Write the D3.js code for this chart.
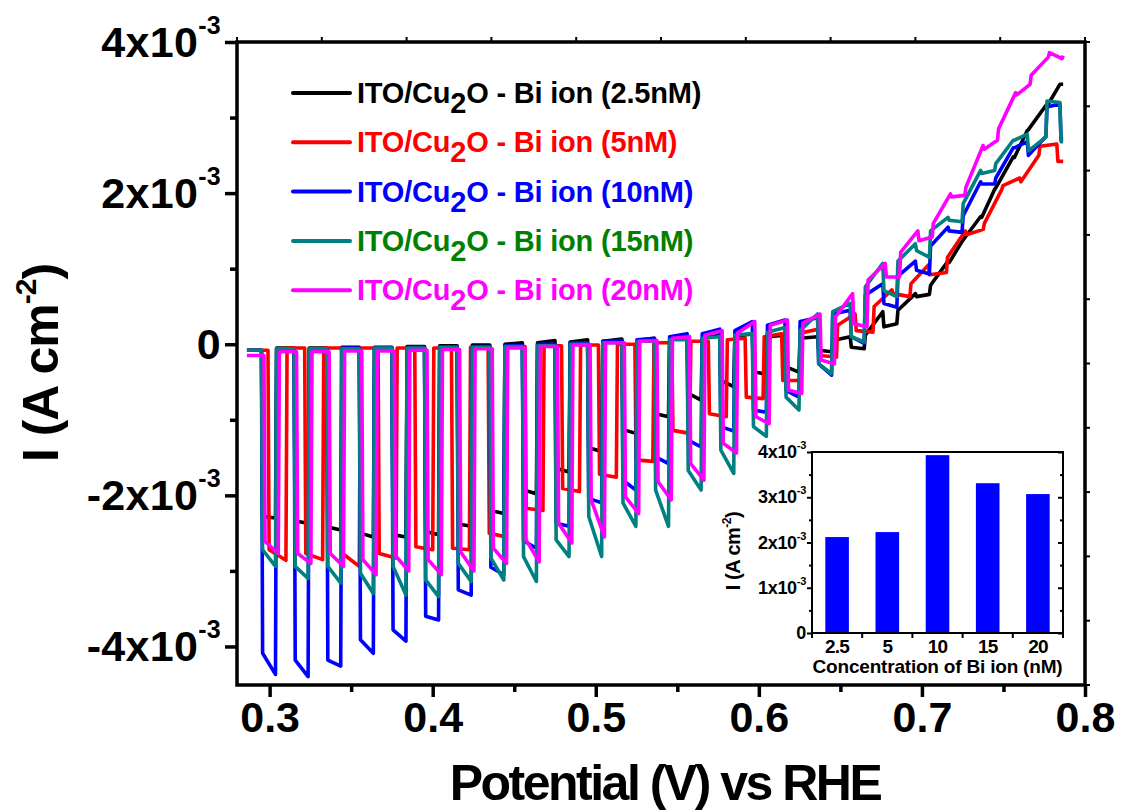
<!DOCTYPE html>
<html>
<head>
<meta charset="utf-8">
<script src="https://cdn.jsdelivr.net/npm/d3@7"></script>
<style>
  body { margin: 0; background: #fff; }
  svg text { font-family: "Liberation Sans", Arial, sans-serif; font-weight: bold; }
</style>
</head>
<body>
<div id="chart"></div>
<script>
// Data ------------------------------------------------------------------------
const concLabels = ["2.5nM", "5nM", "10nM", "15nM", "20nM"];
const lineColors = ["#000000", "#ff0000", "#0000ff", "#008080", "#ff00ff"];
const textColors = ["#000000", "#ff0000", "#0000ff", "#008000", "#ff00ff"];

// potential (V) where the light is switched on
const chopOn = [0.295, 0.315, 0.335, 0.355, 0.375, 0.395, 0.415, 0.435, 0.455,
  0.475, 0.495, 0.516, 0.536, 0.556, 0.576, 0.596, 0.616, 0.636, 0.656, 0.676,
  0.696, 0.716, 0.736, 0.756, 0.776];
// the 5 nM run was chopped on a slower clock
const chopOnRed = [0.299, 0.3215, 0.344, 0.3665, 0.389, 0.4115, 0.434, 0.4566,
  0.479, 0.5016, 0.524, 0.5466, 0.569, 0.5916, 0.614, 0.6366, 0.659, 0.6816,
  0.704, 0.7266, 0.749, 0.7717];
const onTimes = [chopOn, chopOnRed, chopOn, chopOn, chopOn];
const onLag = [0, 0, 0, 0, 0.0015];      // V, delay of each trace
const onWidth = [0.0086, 0.011, 0.0086, 0.0086, 0.0088];
const scanStart = 0.2861;
const scanEnd = 0.7866;

// current (mA cm-2) per chop cycle: [dark before, light start, light end, dark after]
const black2p5 = [
  [-0.08, -2.28, -2.30, -0.05], [-0.05, -2.34, -2.37, -0.05], [-0.05, -2.42, -2.46, -0.04],
  [-0.04, -2.50, -2.55, -0.04], [-0.04, -2.52, -2.55, -0.03], [-0.03, -2.48, -2.52, -0.02],
  [-0.02, -2.38, -2.41, -0.01], [-0.01, -2.20, -2.24, 0.00], [0.02, -1.93, -1.98, 0.02],
  [0.05, -1.64, -1.69, 0.03], [0.06, -1.37, -1.42, 0.04], [0.07, -1.13, -1.18, 0.05],
  [0.08, -0.92, -0.96, 0.06], [0.10, -0.65, -0.74, 0.08], [0.12, -0.48, -0.56, 0.10],
  [0.14, -0.36, -0.40, 0.10], [0.12, -0.30, -0.37, 0.08], [0.10, -0.08, -0.10, 0.05],
  [0.10, -0.04, -0.06, 0.12], [0.43, 0.23, 0.27, 0.45], [0.67, 0.63, 0.66, 0.78],
  [1.10, 1.08, 1.36, 1.38], [1.69, 1.68, 2.05, 2.07], [2.48, 2.47, 2.83, 2.84],
  [3.16, 3.15, 3.44, 3.44]
];
const red5 = [
  [-0.08, -2.72, -2.86, -0.05], [-0.05, -2.77, -2.85, -0.05], [-0.05, -2.77, -2.94, -0.05],
  [-0.05, -2.77, -2.83, -0.05], [-0.05, -2.68, -2.72, -0.05], [-0.05, -2.70, -2.72, -0.04],
  [-0.04, -2.50, -2.55, -0.03], [-0.03, -2.17, -2.20, -0.02], [-0.02, -1.91, -1.95, -0.01],
  [-0.01, -1.72, -1.76, 0.00], [0.00, -1.53, -1.55, 0.02], [0.02, -1.14, -1.18, 0.04],
  [0.04, -0.92, -0.96, 0.06], [0.08, -0.70, -0.72, 0.10], [0.14, -0.48, -0.48, 0.15],
  [0.20, -0.15, -0.17, 0.25], [0.40, 0.18, 0.16, 0.50], [0.72, 0.67, 0.63, 0.80],
  [1.05, 0.92, 0.95, 1.15], [1.50, 1.45, 1.52, 1.60], [2.05, 2.10, 2.20, 2.15],
  [2.50, 2.62, 2.65, 2.42]
];
const blue10 = [
  [-0.08, -4.09, -4.37, -0.06], [-0.06, -4.18, -4.40, -0.06], [-0.06, -4.18, -4.26, -0.05],
  [-0.05, -3.91, -4.09, -0.05], [-0.05, -3.78, -3.93, -0.04], [-0.04, -3.60, -3.65, -0.04],
  [-0.04, -3.25, -3.32, -0.03], [-0.03, -2.95, -3.05, -0.02], [-0.02, -2.60, -2.70, 0.00],
  [0.00, -2.37, -2.41, 0.02], [0.02, -2.04, -2.10, 0.04], [0.05, -1.80, -1.93, 0.06],
  [0.08, -1.49, -1.58, 0.10], [0.14, -1.27, -1.36, 0.14], [0.20, -1.09, -1.15, 0.18],
  [0.30, -0.87, -0.90, 0.25], [0.32, -0.61, -0.70, 0.30], [0.35, -0.26, -0.41, 0.40],
  [0.45, 0.10, 0.01, 0.65], [0.80, 0.54, 0.49, 0.90], [1.10, 0.98, 0.93, 1.30],
  [1.55, 1.50, 1.48, 1.70], [2.15, 2.12, 2.12, 2.20], [2.60, 2.60, 2.68, 2.50],
  [2.75, 3.14, 3.18, 2.72]
];
const teal15 = [
  [-0.08, -2.72, -2.94, -0.06], [-0.06, -2.94, -3.10, -0.06], [-0.06, -2.94, -3.16, -0.06],
  [-0.06, -3.03, -3.30, -0.05], [-0.05, -2.94, -3.32, -0.05], [-0.05, -3.12, -3.34, -0.04],
  [-0.04, -2.90, -3.14, -0.04], [-0.04, -2.83, -3.12, -0.03], [-0.03, -2.81, -3.14, -0.02],
  [-0.02, -2.59, -2.81, 0.00], [0.00, -2.28, -2.81, 0.02], [0.02, -2.10, -2.41, 0.04],
  [0.04, -1.93, -2.41, 0.06], [0.06, -1.67, -1.93, 0.08], [0.10, -1.40, -1.71, 0.12],
  [0.14, -1.09, -1.22, 0.16], [0.22, -0.70, -0.87, 0.18], [0.40, -0.26, -0.39, 0.43],
  [0.54, 0.10, 0.03, 0.76], [1.07, 0.71, 0.63, 1.10], [1.33, 1.24, 1.15, 1.50],
  [1.68, 1.64, 1.62, 1.86], [2.30, 2.26, 2.30, 2.39], [2.70, 2.70, 2.78, 2.56],
  [2.74, 3.22, 3.20, 2.68]
];
const magenta20 = [
  [-0.15, -2.61, -2.77, -0.10], [-0.10, -2.77, -2.90, -0.10], [-0.10, -2.77, -2.94, -0.09],
  [-0.09, -2.85, -3.05, -0.09], [-0.09, -2.80, -3.00, -0.08], [-0.08, -2.85, -3.05, -0.07],
  [-0.07, -2.75, -3.00, -0.06], [-0.06, -2.70, -2.90, -0.05], [-0.05, -2.59, -2.88, -0.03],
  [-0.03, -2.37, -2.63, -0.01], [-0.01, -2.06, -2.55, 0.02], [0.02, -2.02, -2.24, 0.04],
  [0.05, -1.82, -2.06, 0.08], [0.10, -1.58, -1.80, 0.12], [0.18, -1.31, -1.44, 0.15],
  [0.30, -0.96, -1.05, 0.25], [0.32, -0.61, -0.65, 0.28], [0.40, -0.21, -0.26, 0.36],
  [0.67, 0.27, 0.23, 0.85], [1.07, 0.89, 0.89, 1.22], [1.50, 1.37, 1.42, 1.60],
  [1.99, 1.95, 1.97, 2.08], [2.63, 2.58, 2.70, 2.85], [3.33, 3.30, 3.44, 3.56],
  [3.80, 3.86, 3.78, 3.82]
];
const seriesCycles = [black2p5, red5, blue10, teal15, magenta20];

// inset: photocurrent at 0.78 V (x10^-3 A cm-2)
const insetConc = ["2.5", "5", "10", "15", "20"];
const insetCurrent = [2.12, 2.23, 3.93, 3.31, 3.07];

// ticks
const xMajor = [0.3, 0.4, 0.5, 0.6, 0.7, 0.8];
const xMinor = [0.35, 0.45, 0.55, 0.65, 0.75];
const yMajor = [-4, -2, 0, 2, 4];
const yMinor = [-3, -1, 1, 3];
const insetYMajor = [0, 1, 2, 3, 4];
const insetYMinor = [0.5, 1.5, 2.5, 3.5];

// Layout ----------------------------------------------------------------------
const width = 1122;
const height = 811;
const plot = { left: 237, right: 1085, top: 42, bottom: 685 };
const inset = { left: 812, right: 1063, top: 452, bottom: 633 };

const svg = d3.select("#chart")
  .append("svg")
  .attr("width", width)
  .attr("height", height);

svg.append("rect").attr("width", width).attr("height", height).attr("fill", "#fff");

const x = d3.scaleLinear().domain([0.28, 0.8]).range([plot.left, plot.right]);
const y = d3.scaleLinear().domain([-4.51, 4.0]).range([plot.bottom, plot.top]);

svg.append("defs").append("clipPath").attr("id", "plot-clip")
  .append("rect")
  .attr("x", plot.left).attr("y", plot.top)
  .attr("width", plot.right - plot.left).attr("height", plot.bottom - plot.top);

// Chopped light traces ----------------------------------------------------------
function tracePoints(cycles, s) {
  const pts = [[scanStart, cycles[0][0]]];
  const edge = 0.0007;
  cycles.forEach((c, i) => {
    const on = onTimes[s][i] + onLag[s];
    const off = Math.min(on + onWidth[s], scanEnd - edge);
    pts.push([on, c[0]], [on + edge, c[1]], [off, c[2]], [off + edge, c[3]]);
  });
  pts.push([scanEnd, cycles[cycles.length - 1][3]]);
  return pts;
}

const line = d3.line().x(d => x(d[0])).y(d => y(d[1]));

svg.append("g")
  .attr("clip-path", "url(#plot-clip)")
  .selectAll("path")
  .data(seriesCycles)
  .join("path")
  .attr("d", (d, i) => line(tracePoints(d, i)))
  .attr("fill", "none")
  .attr("stroke", (d, i) => lineColors[i])
  .attr("stroke-width", 3.6)
  .attr("stroke-linejoin", "round");

// Axes ------------------------------------------------------------------------
svg.append("rect")
  .attr("x", plot.left).attr("y", plot.top)
  .attr("width", plot.right - plot.left).attr("height", plot.bottom - plot.top)
  .attr("fill", "none").attr("stroke", "#000").attr("stroke-width", 3.5);

const xAxis = svg.append("g")
  .attr("transform", `translate(0,${plot.bottom})`)
  .call(d3.axisBottom(x).tickValues(xMajor).tickSize(12).tickSizeOuter(0)
    .tickPadding(4).tickFormat(d3.format(".1f")));
xAxis.append("g").call(d3.axisBottom(x).tickValues(xMinor).tickSize(7).tickFormat(""));
xAxis.selectAll(".domain").remove();
xAxis.selectAll("line").attr("stroke-width", 3.5);
xAxis.selectAll("text").attr("font-size", 43).attr("fill", "#000");

const yAxis = svg.append("g")
  .attr("transform", `translate(${plot.left},0)`)
  .call(d3.axisLeft(y).tickValues(yMajor).tickSize(12).tickFormat(""));
yAxis.append("g").call(d3.axisLeft(y).tickValues(yMinor).tickSize(7).tickFormat(""));
yAxis.selectAll(".domain").remove();
yAxis.selectAll("line").attr("stroke-width", 3.5);

const yLabels = svg.append("g").selectAll("text")
  .data(yMajor)
  .join("text")
  .attr("x", 221)
  .attr("y", d => y(d) + 15)
  .attr("text-anchor", "end")
  .attr("font-size", 43)
  .attr("letter-spacing", 0.3);
yLabels.append("tspan").text(d => d === 0 ? "0" : `${d}x10`);
yLabels.filter(d => d !== 0).append("tspan")
  .attr("font-size", 25).attr("dy", -23).text("-3");

// opposite axes, short ticks
const rightTicks = d3.range(11).map(i => plot.top + i * (plot.bottom - plot.top) / 10);
svg.append("g").selectAll("line").data(rightTicks).join("line")
  .attr("x1", plot.right).attr("x2", plot.right + 5)
  .attr("y1", d => d).attr("y2", d => d)
  .attr("stroke", "#000").attr("stroke-width", 2);
const topTicks = d3.range(11).map(i => plot.left + i * (plot.right - plot.left) / 10);
svg.append("g").selectAll("line").data(topTicks).join("line")
  .attr("x1", d => d).attr("x2", d => d)
  .attr("y1", plot.top).attr("y2", plot.top - 5)
  .attr("stroke", "#000").attr("stroke-width", 2);

// axis titles
svg.append("text")
  .attr("x", 665).attr("y", 800)
  .attr("text-anchor", "middle")
  .attr("font-size", 50)
  .attr("letter-spacing", -2.5)
  .text("Potential (V) vs RHE");

const yTitle = svg.append("text")
  .attr("transform", "translate(58,363) rotate(-90)")
  .attr("text-anchor", "middle")
  .attr("font-size", 50)
  .attr("letter-spacing", -1);
yTitle.append("tspan").text("I (A cm");
yTitle.append("tspan").attr("font-size", 30).attr("dy", -22).text("-2");
yTitle.append("tspan").attr("dy", 22).text(")");

// Legend ----------------------------------------------------------------------
const legend = svg.append("g").selectAll("g")
  .data(concLabels)
  .join("g")
  .attr("transform", (d, i) => `translate(0,${93 + i * 49.3})`);
legend.append("line")
  .attr("x1", 293).attr("x2", 350)
  .attr("stroke", (d, i) => lineColors[i])
  .attr("stroke-width", 4).attr("stroke-linecap", "round");
const legendText = legend.append("text")
  .attr("x", 357).attr("y", 10)
  .attr("font-size", 29)
  .attr("letter-spacing", -0.2)
  .attr("fill", (d, i) => textColors[i]);
legendText.append("tspan").text("ITO/Cu");
legendText.append("tspan").attr("dy", 10).text("2");
legendText.append("tspan").attr("dy", -10).text(d => `O - Bi ion (${d})`);

// Inset bar chart ---------------------------------------------------------------
const xb = d3.scaleBand().domain(insetConc)
  .range([inset.left, inset.right]).paddingInner(0.53).paddingOuter(0.265);
const yb = d3.scaleLinear().domain([0, 4]).range([inset.bottom, inset.top]);

svg.append("rect")
  .attr("x", inset.left).attr("y", inset.top)
  .attr("width", inset.right - inset.left).attr("height", inset.bottom - inset.top)
  .attr("fill", "#fff");

svg.append("g").selectAll("rect")
  .data(insetCurrent)
  .join("rect")
  .attr("x", (d, i) => xb(insetConc[i]))
  .attr("y", d => yb(d))
  .attr("width", xb.bandwidth())
  .attr("height", d => yb(0) - yb(d))
  .attr("fill", "#0000ff");

svg.append("rect")
  .attr("x", inset.left).attr("y", inset.top)
  .attr("width", inset.right - inset.left).attr("height", inset.bottom - inset.top)
  .attr("fill", "none").attr("stroke", "#000").attr("stroke-width", 2);

const iy = svg.append("g").attr("transform", `translate(${inset.left},0)`)
  .call(d3.axisLeft(yb).tickValues(insetYMajor).tickSize(5).tickFormat(""));
iy.append("g").call(d3.axisLeft(yb).tickValues(insetYMinor).tickSize(3).tickFormat(""));
const iyR = svg.append("g").attr("transform", `translate(${inset.right},0)`)
  .call(d3.axisLeft(yb).tickValues(insetYMajor).tickSize(5).tickFormat(""));
iyR.append("g").call(d3.axisLeft(yb).tickValues(insetYMinor).tickSize(3).tickFormat(""));
[iy, iyR].forEach(g => {
  g.selectAll(".domain").remove();
  g.selectAll("line").attr("stroke-width", 2);
});

const bandEdges = insetConc.slice(0, -1).map(c => xb(c) + xb.bandwidth() / 2 + xb.step() / 2);
svg.append("g").selectAll("line")
  .data([inset.left, ...bandEdges, inset.right])
  .join("line")
  .attr("x1", d => d).attr("x2", d => d)
  .attr("y1", inset.bottom).attr("y2", inset.bottom + 5)
  .attr("stroke", "#000").attr("stroke-width", 2);

const iyLabels = svg.append("g").selectAll("text")
  .data(insetYMajor)
  .join("text")
  .attr("x", 806)
  .attr("y", d => yb(d) + 6)
  .attr("text-anchor", "end")
  .attr("font-size", 18)
  .attr("letter-spacing", -0.3);
iyLabels.append("tspan").text(d => d === 0 ? "0" : `${d}x10`);
iyLabels.filter(d => d !== 0).append("tspan")
  .attr("font-size", 11).attr("dy", -9).text("-3");

svg.append("g").selectAll("text")
  .data(insetConc)
  .join("text")
  .attr("x", d => xb(d) + xb.bandwidth() / 2)
  .attr("y", 653)
  .attr("text-anchor", "middle")
  .attr("font-size", 19)
  .attr("letter-spacing", -0.8)
  .text(d => d);

svg.append("text")
  .attr("x", (inset.left + inset.right) / 2).attr("y", 673)
  .attr("text-anchor", "middle")
  .attr("font-size", 19)
  .attr("letter-spacing", -0.2)
  .text("Concentration of Bi ion (nM)");

const iyTitle = svg.append("text")
  .attr("transform", "translate(740,551) rotate(-90)")
  .attr("text-anchor", "middle")
  .attr("font-size", 20)
  .attr("letter-spacing", -0.5);
iyTitle.append("tspan").text("I (A cm");
iyTitle.append("tspan").attr("font-size", 12).attr("dy", -9).text("-2");
iyTitle.append("tspan").attr("dy", 9).text(")");
</script>
</body>
</html>
